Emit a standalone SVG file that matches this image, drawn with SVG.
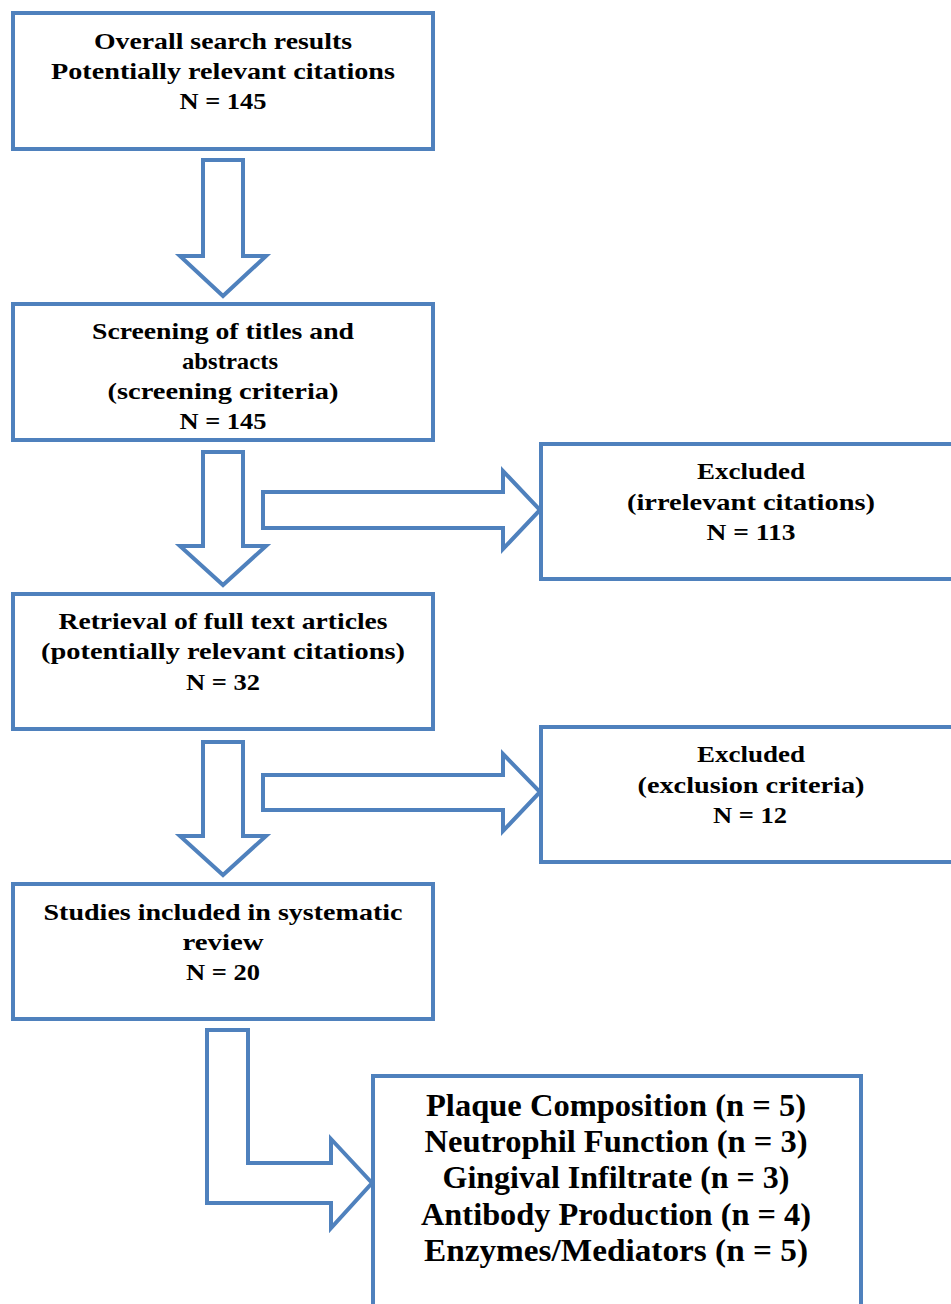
<svg xmlns="http://www.w3.org/2000/svg" width="951" height="1304" viewBox="0 0 951 1304">
<style>
.box{fill:#fff;stroke:#4f81bd;stroke-width:4}
.arr{fill:#fff;stroke:#4f81bd;stroke-width:4;stroke-linejoin:miter}
.t{font-family:"Liberation Serif",serif;font-weight:bold;font-size:23px;fill:#000;text-anchor:middle}
.b{font-family:"Liberation Serif",serif;font-weight:bold;font-size:31px;fill:#000;text-anchor:middle}
</style>
<rect width="951" height="1304" fill="#fff"/>
<g id="connectors">
<polygon class="arr" points="203,160 243,160 243,256 266,256 223,296 180,256 203,256"/>
<polygon class="arr" points="203,452 243,452 243,546 266,546 223,585 180,546 203,546"/>
<polygon class="arr" points="203,742 243,742 243,836 266,836 223,875 180,836 203,836"/>
<polygon class="arr" points="263,492 503,492 503,471 540,510 503,549 503,528 263,528"/>
<polygon class="arr" points="263,775 503,775 503,754 540,792 503,831 503,810 263,810"/>
<polygon class="arr" points="207,1030 248,1030 248,1163 331,1163 331,1139 372,1183 331,1228 331,1203 207,1203"/>
</g>
<g id="n1">
<rect class="box" x="13" y="13" width="420" height="136"/>
<text class="t" x="223" y="49" textLength="258" lengthAdjust="spacingAndGlyphs">Overall search results</text>
<text class="t" x="223" y="79" textLength="344" lengthAdjust="spacingAndGlyphs">Potentially relevant citations</text>
<text class="t" x="223" y="109" textLength="87" lengthAdjust="spacingAndGlyphs">N = 145</text>
</g>
<g id="n2">
<rect class="box" x="13" y="304" width="420" height="136"/>
<text class="t" x="223" y="339" textLength="262" lengthAdjust="spacingAndGlyphs">Screening of titles and</text>
<text class="t" x="230" y="369" textLength="96" lengthAdjust="spacingAndGlyphs">abstracts</text>
<text class="t" x="223" y="399" textLength="231" lengthAdjust="spacingAndGlyphs">(screening criteria)</text>
<text class="t" x="223" y="429" textLength="87" lengthAdjust="spacingAndGlyphs">N = 145</text>
</g>
<g id="n3">
<rect class="box" x="13" y="594" width="420" height="135"/>
<text class="t" x="223" y="629" textLength="329" lengthAdjust="spacingAndGlyphs">Retrieval of full text articles</text>
<text class="t" x="223" y="659" textLength="364" lengthAdjust="spacingAndGlyphs">(potentially relevant citations)</text>
<text class="t" x="223" y="690" textLength="74" lengthAdjust="spacingAndGlyphs">N = 32</text>
</g>
<g id="n4">
<rect class="box" x="13" y="884" width="420" height="135"/>
<text class="t" x="223" y="920" textLength="359" lengthAdjust="spacingAndGlyphs">Studies included in systematic</text>
<text class="t" x="223" y="950" textLength="81" lengthAdjust="spacingAndGlyphs">review</text>
<text class="t" x="223" y="980" textLength="74" lengthAdjust="spacingAndGlyphs">N = 20</text>
</g>
<g id="ex1">
<rect class="box" x="541" y="444" width="420" height="135"/>
<text class="t" x="751" y="479" textLength="108" lengthAdjust="spacingAndGlyphs">Excluded</text>
<text class="t" x="751" y="510" textLength="248" lengthAdjust="spacingAndGlyphs">(irrelevant citations)</text>
<text class="t" x="751" y="540" textLength="89" lengthAdjust="spacingAndGlyphs">N = 113</text>
</g>
<g id="ex2">
<rect class="box" x="541" y="727" width="420" height="135"/>
<text class="t" x="751" y="762" textLength="108" lengthAdjust="spacingAndGlyphs">Excluded</text>
<text class="t" x="751" y="793" textLength="227" lengthAdjust="spacingAndGlyphs">(exclusion criteria)</text>
<text class="t" x="750" y="823" textLength="74" lengthAdjust="spacingAndGlyphs">N = 12</text>
</g>
<g id="n5">
<rect class="box" x="373" y="1076" width="488" height="240"/>
<text class="b" x="616" y="1116" textLength="380" lengthAdjust="spacingAndGlyphs">Plaque Composition (n = 5)</text>
<text class="b" x="616" y="1152" textLength="383" lengthAdjust="spacingAndGlyphs">Neutrophil Function (n = 3)</text>
<text class="b" x="616" y="1188" textLength="347" lengthAdjust="spacingAndGlyphs">Gingival Infiltrate (n = 3)</text>
<text class="b" x="616" y="1225" textLength="390" lengthAdjust="spacingAndGlyphs">Antibody Production (n = 4)</text>
<text class="b" x="616" y="1261" textLength="384" lengthAdjust="spacingAndGlyphs">Enzymes/Mediators (n = 5)</text>
</g>
</svg>
